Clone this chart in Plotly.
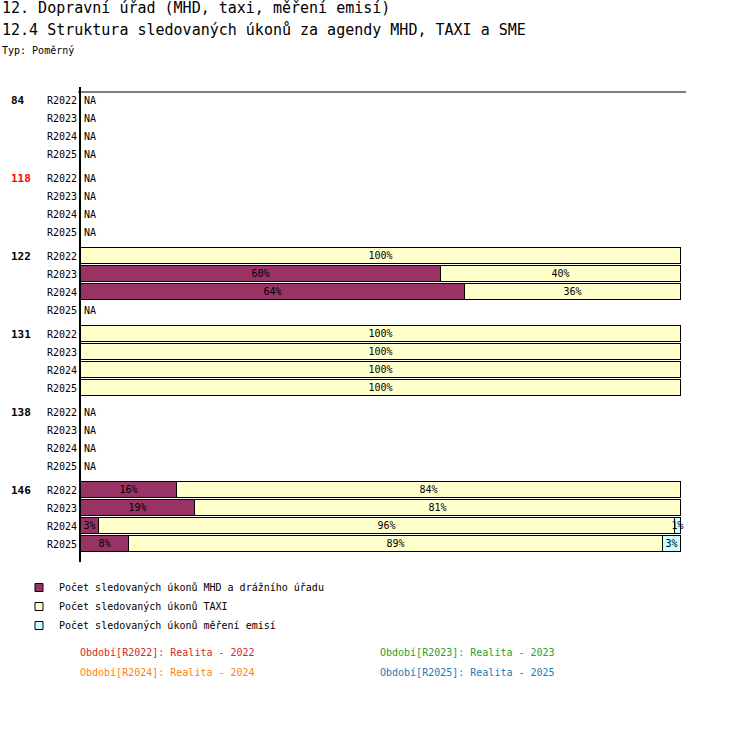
import plotly.graph_objects as go

# skupiny (agendy) a období
groups = ["84", "118", "122", "131", "138", "146"]
periods = ["R2022", "R2023", "R2024", "R2025"]
highlight = ["118"]

# podíly v %, None = NA
mhd = [None, None, None, None,
       None, None, None, None,
       0, 60, 64, None,
       0, 0, 0, 0,
       None, None, None, None,
       16, 19, 3, 8]
taxi = [None, None, None, None,
        None, None, None, None,
        100, 40, 36, None,
        100, 100, 100, 100,
        None, None, None, None,
        84, 81, 96, 89]
sme = [None, None, None, None,
       None, None, None, None,
       0, 0, 0, None,
       0, 0, 0, 0,
       None, None, None, None,
       0, 0, 1, 3]

series_names = ["Počet sledovaných úkonů MHD a drážního úřadu",
                "Počet sledovaných úkonů TAXI",
                "Počet sledovaných úkonů měření emisí"]
series_colors = ["#993366", "#FFFFCC", "#CCFFFF"]

period_labels = ["Období[R2022]: Realita - 2022", "Období[R2023]: Realita - 2023",
                 "Období[R2024]: Realita - 2024", "Období[R2025]: Realita - 2025"]
period_colors = ["#d62728", "#2ca02c", "#ff7f0e", "#1f77b4"]

FONT = "DejaVu Sans Mono"
GAP = 1 / 3  # mezera mezi skupinami (v řádcích)

ypos = []
for gi, g in enumerate(groups):
    for pi, p in enumerate(periods):
        ypos.append(gi * (len(periods) + GAP) + pi)

fig = go.Figure()

for vals, name, color in zip([mhd, taxi, sme], series_names, series_colors):
    xs = [v if v else None for v in vals]
    fig.add_trace(go.Bar(
        x=xs, y=ypos, orientation="h",
        marker=dict(color=color, line=dict(color="black", width=1)),
        width=0.88,
        text=[f"{v}%" if v else "" for v in vals],
        textposition="inside", insidetextanchor="middle",
        constraintext="none", textangle=0,
        textfont=dict(family=FONT, size=10, color="black"),
        showlegend=False, hoverinfo="skip", cliponaxis=False,
    ))
    # legenda se čtverečkem
    fig.add_trace(go.Scatter(
        x=[None], y=[None], mode="markers", name=name,
        marker=dict(symbol="square", size=8, color=color,
                    line=dict(color="black", width=1)),
    ))

annotations = []
# NA řádky
for i, y in enumerate(ypos):
    if mhd[i] is None and taxi[i] is None and sme[i] is None:
        annotations.append(dict(x=0, y=y, xref="x", yref="y", text="NA",
                                showarrow=False, xanchor="left", xshift=1,
                                font=dict(family=FONT, size=10, color="black")))
# popisky skupin
for gi, g in enumerate(groups):
    annotations.append(dict(
        x=-72 / 605, y=gi * (len(periods) + GAP), xref="paper", yref="y",
        text=f"<b>{g}</b>", showarrow=False, xanchor="left",
        font=dict(family=FONT, size=11, color="red" if g in highlight else "black")))

# nadpisy
titles = [("12. Dopravní úřad (MHD, taxi, měření emisí)", 15, 8),
          ("12.4 Struktura sledovaných úkonů za agendy MHD, TAXI a SME", 15, 30),
          ("Typ: Poměrný", 10, 50)]
for text, size, ypx in titles:
    annotations.append(dict(x=-81 / 605, y=1 + (87 - ypx) / 475, xref="paper", yref="paper",
                            text=text, showarrow=False, xanchor="left", yanchor="middle",
                            font=dict(family=FONT, size=size, color="black")))

# období
for k, (text, color) in enumerate(zip(period_labels, period_colors)):
    xpx = 78 if k % 2 == 0 else 378
    ypx = 652 + 20 * (k // 2)
    annotations.append(dict(x=(xpx - 81) / 605, y=-(ypx - 562) / 475, xref="paper", yref="paper",
                            text=text, showarrow=False, xanchor="left", yanchor="middle",
                            font=dict(family=FONT, size=10, color=color)))

top = ypos[0] - 13 / 18
bottom = ypos[-1] + 1

fig.update_layout(
    width=750, height=730,
    margin=dict(l=81, r=64, t=87, b=168),
    paper_bgcolor="white", plot_bgcolor="white",
    barmode="stack", bargap=0,
    font=dict(family=FONT, size=10, color="black"),
    xaxis=dict(range=[0, 100 * 605 / 600], showticklabels=False, showgrid=False,
               zeroline=False, showline=False, ticks=""),
    yaxis=dict(range=[bottom, top], tickmode="array", tickvals=ypos,
               ticktext=periods * len(groups), showgrid=False, zeroline=False,
               showline=True, linecolor="black", linewidth=2, ticks="",
               tickfont=dict(family=FONT, size=10, color="black")),
    legend=dict(x=-62 / 605, y=-11 / 475, xanchor="left", yanchor="top",
                traceorder="normal", tracegroupgap=0,
                font=dict(family=FONT, size=10, color="black"),
                bgcolor="rgba(0,0,0,0)"),
    shapes=[dict(type="line", xref="paper", yref="y", x0=-3 / 605, x1=1,
                 y0=top + 5 / 18, y1=top + 5 / 18, line=dict(color="black", width=1))],
    annotations=annotations,
)

fig.write_html("out.html", config={"displayModeBar": False},
               post_script="document.body.style.margin='0';")
